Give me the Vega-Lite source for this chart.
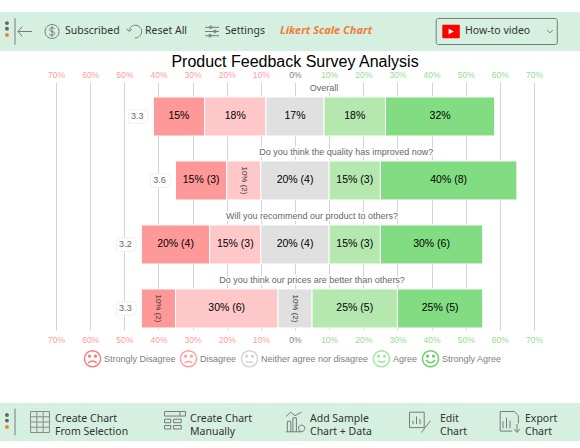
{"$schema":"https://vega.github.io/schema/vega-lite/v6.json","background":"white","padding":{"left":0,"top":12,"right":0,"bottom":6},"spacing":3,"config":{"view":{"stroke":null},"font":"Liberation Sans"},"resolve":{"scale":{"stroke":"independent","x":"independent"}},
"datasets":{"segments":[
{"question":"Overall","category":"Strongly Disagree","start":-41.5,"end":-26.5,"mid":-34,"pct":15,"label":"15%"},
{"question":"Overall","category":"Disagree","start":-26.5,"end":-8.5,"mid":-17.5,"pct":18,"label":"18%"},
{"question":"Overall","category":"Neither agree nor disagree","start":-8.5,"end":8.5,"mid":0,"pct":17,"label":"17%"},
{"question":"Overall","category":"Agree","start":8.5,"end":26.5,"mid":17.5,"pct":18,"label":"18%"},
{"question":"Overall","category":"Strongly Agree","start":26.5,"end":58.5,"mid":42.5,"pct":32,"label":"32%"},
{"question":"Do you think the quality has improved now?","category":"Strongly Disagree","start":-35,"end":-20,"mid":-27.5,"pct":15,"label":"15% (3)"},
{"question":"Do you think the quality has improved now?","category":"Disagree","start":-20,"end":-10,"mid":-15,"pct":10,"label":"10% (2)"},
{"question":"Do you think the quality has improved now?","category":"Neither agree nor disagree","start":-10,"end":10,"mid":0,"pct":20,"label":"20% (4)"},
{"question":"Do you think the quality has improved now?","category":"Agree","start":10,"end":25,"mid":17.5,"pct":15,"label":"15% (3)"},
{"question":"Do you think the quality has improved now?","category":"Strongly Agree","start":25,"end":65,"mid":45,"pct":40,"label":"40% (8)"},
{"question":"Will you recommend our product to others?","category":"Strongly Disagree","start":-45,"end":-25,"mid":-35,"pct":20,"label":"20% (4)"},
{"question":"Will you recommend our product to others?","category":"Disagree","start":-25,"end":-10,"mid":-17.5,"pct":15,"label":"15% (3)"},
{"question":"Will you recommend our product to others?","category":"Neither agree nor disagree","start":-10,"end":10,"mid":0,"pct":20,"label":"20% (4)"},
{"question":"Will you recommend our product to others?","category":"Agree","start":10,"end":25,"mid":17.5,"pct":15,"label":"15% (3)"},
{"question":"Will you recommend our product to others?","category":"Strongly Agree","start":25,"end":55,"mid":40,"pct":30,"label":"30% (6)"},
{"question":"Do you think our prices are better than others?","category":"Strongly Disagree","start":-45,"end":-35,"mid":-40,"pct":10,"label":"10% (2)"},
{"question":"Do you think our prices are better than others?","category":"Disagree","start":-35,"end":-5,"mid":-20,"pct":30,"label":"30% (6)"},
{"question":"Do you think our prices are better than others?","category":"Neither agree nor disagree","start":-5,"end":5,"mid":0,"pct":10,"label":"10% (2)"},
{"question":"Do you think our prices are better than others?","category":"Agree","start":5,"end":30,"mid":17.5,"pct":25,"label":"25% (5)"},
{"question":"Do you think our prices are better than others?","category":"Strongly Agree","start":30,"end":55,"mid":42.5,"pct":25,"label":"25% (5)"}],
"questions":[
{"question":"Overall","score":"3.3","left":-41.5,"centre":8.5},
{"question":"Do you think the quality has improved now?","score":"3.6","left":-35,"centre":15},
{"question":"Will you recommend our product to others?","score":"3.2","left":-45,"centre":5},
{"question":"Do you think our prices are better than others?","score":"3.3","left":-45,"centre":5}]},
"vconcat":[
{"width":580,"height":39,"view":{"fill":"#d5efe1","stroke":null},
"encoding":{"x":{"field":"slot","type":"nominal","axis":null,"scale":{"type":"point","padding":0,"domain":["0","kebab","2","divider","4","arrow","6","7","8","9","coin","11","12","Subscribed","14","15","16","17","18","19","20","21","22","23","24","25","26","reset","28","Reset All","30","31","32","33","34","35","36","37","38","39","40","41","sliders","43","44","Settings","46","47","48","49","50","51","52","53","54","55","Likert Scale Chart","57","58","59","60","61","62","63","64","65","66","67","68","69","70","71","72","73","74","75","76","77","78","79","80","81","82","83","84","85","86","87","88","89","youtube","91","92","How-to video","94","95","96","97","98","button","100","101","102","103","104","105","106","107","108","109","chevron","111","112","113","114","115","116"]}}},
"layer":[
{"data":{"values":[{"slot":"divider"}]},"mark":{"type":"point","filled":false,"size":196,"stroke":"#7a7a7a","strokeWidth":1,"opacity":1,"shape":"M0,-1.9V1.9"}},
{"data":{"values":[{"slot":"arrow"}]},"mark":{"type":"point","filled":false,"size":196,"stroke":"#7a7a7a","strokeWidth":1,"opacity":1,"shape":"M1,0H-1M-.4,-.7L-1,0L-.4,.7"}},
{"data":{"values":[{"slot":"coin"}]},"mark":{"type":"point","filled":false,"size":196,"stroke":"#7a7a7a","strokeWidth":1,"opacity":1,"shape":"M-.71,0A1,1,0,1,1,1.29,0A1,1,0,1,1,-.71,0ZM.65,-.4C.4,-.65,-.05,-.55,-.05,-.25C-.05,.1,.65,-.1,.65,.25C.65,.55,.2,.65,-.1,.4M.29,-.75V.75"}},
{"data":{"values":[{"slot":"reset"}]},"mark":{"type":"point","filled":false,"size":196,"stroke":"#7a7a7a","strokeWidth":1,"opacity":1,"shape":"M-.85,-.1A.9,.9,0,1,1,0,.9M-1.2,-.4L-.85,0L-.45,-.35"}},
{"data":{"values":[{"slot":"sliders"}]},"mark":{"type":"point","filled":false,"size":196,"stroke":"#7a7a7a","strokeWidth":1,"opacity":1,"shape":"M-.7,-.6H1.29M-.7,0H1.29M-.7,.6H1.29M-.1,-.6A.2,.2,0,1,1,.3,-.6A.2,.2,0,1,1,-.1,-.6ZM.5,0A.2,.2,0,1,1,.9,0A.2,.2,0,1,1,.5,0ZM-.2,.6A.2,.2,0,1,1,.2,.6A.2,.2,0,1,1,-.2,.6Z"}},
{"data":{"values":[{"slot":"button"}]},"mark":{"type":"point","filled":false,"size":196,"stroke":"#7a7a7a","strokeWidth":1,"opacity":1,"shape":"M-8.1,-1.86H8.6A.3,.3,0,0,1,8.9,-1.56V1.56A.3,.3,0,0,1,8.6,1.86H-8.1A.3,.3,0,0,1,-8.4,1.56V-1.56A.3,.3,0,0,1,-8.1,-1.86Z"}},
{"data":{"values":[{"slot":"chevron"}]},"mark":{"type":"point","filled":false,"size":196,"stroke":"#7a7a7a","strokeWidth":1,"opacity":1,"shape":"M-.4,-.2L0,.2L.4,-.2"}},
{"data":{"values":[{"slot":"kebab"}]},"mark":{"type":"point","filled":true,"size":196,"opacity":1,"color":"#666666","shape":"M0,-1.2A.28,.28,0,1,1,.56,-1.2A.28,.28,0,1,1,0,-1.2ZM0,-.4A.28,.28,0,1,1,.56,-.4A.28,.28,0,1,1,0,-.4Z"}},
{"data":{"values":[{"slot":"kebab"}]},"mark":{"type":"point","filled":true,"size":196,"opacity":1,"color":"#f47b36","shape":"M0,.5A.28,.28,0,1,1,.56,.5A.28,.28,0,1,1,0,.5Z"}},
{"data":{"values":[{"slot":"youtube"}]},"mark":{"type":"point","filled":true,"size":196,"opacity":1,"color":"#ff0000","shape":"M-1.05,-.95H1.35A.2,.2,0,0,1,1.4,-.8V.8A.2,.2,0,0,1,1.35,.95H-1.05A.2,.2,0,0,1,-1.1,.8V-.8A.2,.2,0,0,1,-1.05,-.95Z"}},
{"data":{"values":[{"slot":"youtube"}]},"mark":{"type":"point","filled":true,"size":196,"opacity":1,"color":"#ffffff","shape":"M-.2,-.4L.55,0L-.2,.4Z"}},
{"data":{"values":[{"slot":"Subscribed"},{"slot":"Reset All"},{"slot":"Settings"},{"slot":"How-to video"}]},
"mark":{"type":"text","align":"left","font":"Noto Sans","fontSize":10.5,"color":"#333333","dy":-1},
"encoding":{"text":{"field":"slot"}}},
{"data":{"values":[{"slot":"Likert Scale Chart"}]},
"mark":{"type":"text","align":"left","font":"Noto Sans","fontSize":11,"fontWeight":"bold","fontStyle":"italic","color":"#f47b36","dy":-1},
"encoding":{"text":{"field":"slot"}}}]},
{"width":580,"height":248,
"title":{"text":"Product Feedback Survey Analysis","fontSize":16,"fontWeight":"normal","color":"#000000","font":"Liberation Sans","anchor":"middle","dx":5,"offset":0},
"resolve":{"axis":{"x":"independent"}},
"encoding":{"y":{"field":"question","type":"nominal","axis":null,"scale":{"type":"band","domain":["Overall","Do you think the quality has improved now?","Will you recommend our product to others?","Do you think our prices are better than others?"],"paddingInner":0.39,"paddingOuter":0.1328,"align":0.88}}},
"layer":[
{"data":{"name":"segments"},"mark":{"type":"bar","stroke":"#ffffff","strokeWidth":1},
"encoding":{"x":{"field":"start","type":"quantitative","title":null,"scale":{"domain":[-86.41,83.48],"nice":false,"zero":false},"axis":{"orient":"top","values":[-70,-60,-50,-40,-30,-20,-10,0,10,20,30,40,50,60,70],"labelExpr":"abs(datum.value)+'%'","labelColor":{"expr":"datum.value<0?'#ff9c9c':datum.value>0?'#93dc93':'#808080'"},"labelFontSize":8.5,"labelPadding":3,"grid":true,"gridColor":"#d4d4d4","domain":false,"ticks":false,"title":null,"labelFlush":false,"labelOverlap":false}},"x2":{"field":"end"},
"fill":{"field":"category","type":"nominal","legend":null,"scale":{"domain":["Strongly Disagree","Disagree","Neither agree nor disagree","Agree","Strongly Agree"],"range":["#ff9999","#ffc8c8","#e0e0e0","#b5e8ae","#82dc82"]}}}},
{"data":{"name":"segments"},"mark":{"type":"point","filled":false,"size":1,"opacity":0},
"encoding":{"x":{"field":"mid","type":"quantitative","axis":{"orient":"bottom","values":[-70,-60,-50,-40,-30,-20,-10,0,10,20,30,40,50,60,70],"labelExpr":"abs(datum.value)+'%'","labelColor":{"expr":"datum.value<0?'#ff9c9c':datum.value>0?'#93dc93':'#808080'"},"labelFontSize":8.5,"labelPadding":5,"grid":false,"domain":false,"ticks":false,"title":" ","titlePadding":46,"titleFontSize":10,"labelFlush":false,"labelOverlap":false}},
"stroke":{"field":"category","type":"nominal","scale":{"domain":["Strongly Disagree","Disagree","Neither agree nor disagree","Agree","Strongly Agree"],"range":["#f87c7c","#ff9f9f","#d2d2d2","#a4e6a0","#66d266"]},"legend":{"orient":"none","legendX":83,"legendY":267,"direction":"horizontal","columns":5,"title":null,"labelColor":"#808080","labelFontSize":9,"labelFont":"Liberation Sans","symbolSize":289,"symbolStrokeWidth":1.5,"symbolOpacity":1,"columnPadding":1,"labelOffset":2,
"encoding":{"symbols":{"shape":{"value":{"expr":"datum.value==='Strongly Disagree'?'M-.95,0A.95,.95,0,1,1,.95,0A.95,.95,0,1,1,-.95,0ZM-.45,-.3A.1,.1,0,1,1,-.25,-.3A.1,.1,0,1,1,-.45,-.3ZM.25,-.3A.1,.1,0,1,1,.45,-.3A.1,.1,0,1,1,.25,-.3ZM-.5,.5Q0,.05,.5,.5':datum.value==='Disagree'?'M-.95,0A.95,.95,0,1,1,.95,0A.95,.95,0,1,1,-.95,0ZM-.45,-.3A.1,.1,0,1,1,-.25,-.3A.1,.1,0,1,1,-.45,-.3ZM.25,-.3A.1,.1,0,1,1,.45,-.3A.1,.1,0,1,1,.25,-.3ZM-.45,.45Q0,.2,.45,.45':datum.value==='Agree'?'M-.95,0A.95,.95,0,1,1,.95,0A.95,.95,0,1,1,-.95,0ZM-.45,-.3A.1,.1,0,1,1,-.25,-.3A.1,.1,0,1,1,-.45,-.3ZM.25,-.3A.1,.1,0,1,1,.45,-.3A.1,.1,0,1,1,.25,-.3ZM-.45,.25Q0,.55,.45,.25':datum.value==='Strongly Agree'?'M-.95,0A.95,.95,0,1,1,.95,0A.95,.95,0,1,1,-.95,0ZM-.45,-.3A.1,.1,0,1,1,-.25,-.3A.1,.1,0,1,1,-.45,-.3ZM.25,-.3A.1,.1,0,1,1,.45,-.3A.1,.1,0,1,1,.25,-.3ZM-.55,.15Q0,.8,.55,.15':'M-.95,0A.95,.95,0,1,1,.95,0A.95,.95,0,1,1,-.95,0ZM-.45,-.3A.1,.1,0,1,1,-.25,-.3A.1,.1,0,1,1,-.45,-.3ZM.25,-.3A.1,.1,0,1,1,.45,-.3A.1,.1,0,1,1,.25,-.3ZM-.45,.4H.45'"}}}}}}}},
{"data":{"name":"questions"},"mark":{"type":"text","fontSize":9,"dy":-28,"stroke":"#ffffff","strokeWidth":3,"font":"Liberation Sans"},
"encoding":{"x":{"field":"centre","type":"quantitative","axis":null},"text":{"field":"question"}}},
{"data":{"name":"questions"},"mark":{"type":"text","fontSize":9,"dy":-28,"color":"#666666","font":"Liberation Sans"},
"encoding":{"x":{"field":"centre","type":"quantitative","axis":null},"text":{"field":"question"}}},
{"data":{"name":"questions"},"mark":{"type":"point","shape":"M-1,-.75H1L1.3,0L1,.75H-1Z","size":324,"filled":true,"fill":"#ffffff","stroke":"#f0f0f0","strokeWidth":1,"opacity":1,"xOffset":-16},
"encoding":{"x":{"field":"left","type":"quantitative","axis":null}}},
{"data":{"name":"questions"},"mark":{"type":"text","fontSize":9,"dx":-16,"color":"#666666"},
"encoding":{"x":{"field":"left","type":"quantitative","axis":null},"text":{"field":"score"}}},
{"data":{"name":"segments"},"transform":[{"filter":"!(datum.pct==10)"}],"mark":{"type":"text","fontSize":10.5,"color":"#000000"},
"encoding":{"x":{"field":"mid","type":"quantitative","axis":null},"text":{"field":"label"}}},
{"data":{"name":"segments"},"transform":[{"filter":"datum.pct==10"}],"mark":{"type":"text","fontSize":8,"angle":90,"color":"#333333"},
"encoding":{"x":{"field":"mid","type":"quantitative","axis":null},"text":{"field":"label"}}}]},
{"width":580,"height":38,"view":{"fill":"#d5efe1","stroke":null},
"encoding":{"x":{"field":"slot","type":"nominal","axis":null,"scale":{"type":"point","padding":0,"domain":["0","kebab","2","divider","4","5","6","7","sheet","9","10","Create Chart\nFrom Selection","12","13","14","15","16","17","18","19","20","21","22","23","24","25","26","27","28","29","30","31","32","33","34","table","36","37","Create Chart\nManually","39","40","41","42","43","44","45","46","47","48","49","50","51","52","53","54","55","56","57","58","sample","60","61","Add Sample\nChart + Data","63","64","65","66","67","68","69","70","71","72","73","74","75","76","77","78","79","80","81","82","83","edit","85","86","87","Edit\nChart","89","90","91","92","93","94","95","96","97","98","99","100","101","export","103","104","Export\nChart","106","107","108","109","110","111","112","113","114","115","116"]}}},
"layer":[
{"data":{"values":[{"slot":"divider"}]},"mark":{"type":"point","filled":false,"size":196,"stroke":"#7a7a7a","strokeWidth":1,"opacity":1,"shape":"M0,-1.9V1.9"}},
{"data":{"values":[{"slot":"sheet"}]},"mark":{"type":"point","filled":false,"size":196,"stroke":"#8a8a8a","strokeWidth":1,"opacity":1,"shape":"M-1.35,-1.5H1.35V1.5H-1.35ZM-1.35,-.75H1.35M-1.35,0H1.35M-1.35,.75H1.35M-.45,-1.5V1.5M.45,-1.5V1.5"}},
{"data":{"values":[{"slot":"table"}]},"mark":{"type":"point","filled":false,"size":196,"stroke":"#7a7a7a","strokeWidth":1,"opacity":1,"shape":"M-1.5,-1.5H1.5V-.85H-1.5ZM.7,-1.5V-.85M-1.5,-.4H-.6V.1H-1.5ZM-.2,-.4H.9V.1H-.2ZM-1.5,.5H-.6V1H-1.5ZM-.2,.5H.9V1H-.2Z"}},
{"data":{"values":[{"slot":"sample"}]},"mark":{"type":"point","filled":false,"size":196,"stroke":"#7a7a7a","strokeWidth":1,"opacity":1,"shape":"M-1.3,1.4H1M-1.1,1.4V-.1H-.6V1.4M-.3,1.4V-.6H.2V1.4M-1.3,-.8L-.6,-1.4L0,-.9L.9,-1.4M.5,.9A.45,.45,0,1,1,1.4,.9A.45,.45,0,1,1,.5,.9Z"}},
{"data":{"values":[{"slot":"edit"}]},"mark":{"type":"point","filled":false,"size":196,"stroke":"#7a7a7a","strokeWidth":1,"opacity":1,"shape":"M-1.5,-1.4H.6V.8H-1.5ZM-1,.3V-.2M-.5,.3V-.8M0,.3V-.4M.2,1.5L1.5,-.2"}},
{"data":{"values":[{"slot":"export"}]},"mark":{"type":"point","filled":false,"size":196,"stroke":"#7a7a7a","strokeWidth":1,"opacity":1,"shape":"M-1.4,-1.5H.6L1.2,-.9V.2M.3,1.3H-1.4V-1.5M-1,.9V-.1M-.5,.9V-.6M0,.9V-.2M1,.3V1.4M.6,1L1,1.5L1.4,1"}},
{"data":{"values":[{"slot":"kebab"}]},"mark":{"type":"point","filled":true,"size":196,"opacity":1,"color":"#666666","shape":"M0,-1A.28,.28,0,1,1,.56,-1A.28,.28,0,1,1,0,-1ZM0,-.2A.28,.28,0,1,1,.56,-.2A.28,.28,0,1,1,0,-.2Z"}},
{"data":{"values":[{"slot":"kebab"}]},"mark":{"type":"point","filled":true,"size":196,"opacity":1,"color":"#f47b36","shape":"M0,.7A.28,.28,0,1,1,.56,.7A.28,.28,0,1,1,0,.7Z"}},
{"data":{"values":[{"slot":"Create Chart\nFrom Selection"},{"slot":"Create Chart\nManually"},{"slot":"Add Sample\nChart + Data"},{"slot":"Edit\nChart"},{"slot":"Export\nChart"}]},
"mark":{"type":"text","align":"left","lineBreak":"\n","lineHeight":13,"font":"Noto Sans","fontSize":10.5,"color":"#333333","dy":-3},
"encoding":{"text":{"field":"slot"}}}]}]}
